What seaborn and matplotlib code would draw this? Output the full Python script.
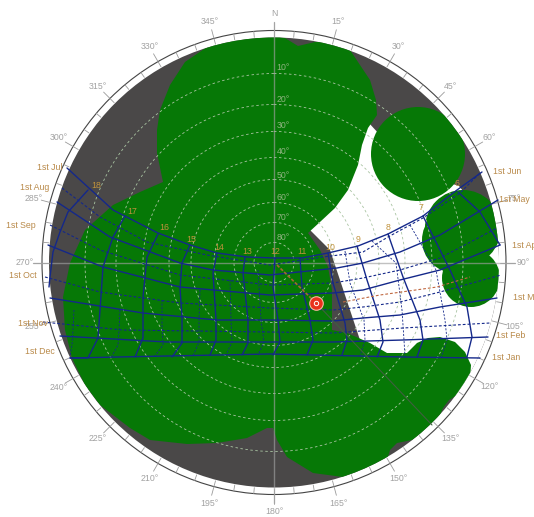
# ==========================================
# Sun path diagram with shading obstructions
# ==========================================
import numpy as np
import pandas as pd
import matplotlib.pyplot as plt
from matplotlib.patches import Circle, Polygon
import seaborn as sns

# ==========================================
# Data (chart coordinates)
# ==========================================
centre_x = 274
centre_y = 262.5
horizon_r = 225
ring_r = 232

alt_labels = ["10°", "20°", "30°", "40°", "50°", "60°", "70°", "80°"]
alt_rings = [189, 158, 131, 105, 83, 60, 40, 20]
alt_label_y = [67, 99, 126, 152, 175, 197, 217, 238]

az_labels = ["N", "15°", "30°", "45°", "60°", "75°", "90°", "105°", "120°", "135°", "150°", "165°",
             "180°", "195°", "210°", "225°", "240°", "255°", "270°", "285°", "300°", "315°", "330°", "345°"]

date_labels = ["1st Jul", "1st Aug", "1st Sep", "1st Oct", "1st Nov", "1st Dec",
               "1st Jun", "1st May", "1st Apr", "1st Mar", "1st Feb", "1st Jan"]
date_x = [50, 35, 21, 23, 33, 40, 507, 514, 526, 528, 511, 506]
date_y = [167, 187, 226, 275, 323, 352, 172, 200, 245, 297, 335, 357]

hour_labels = ["18", "17", "16", "15", "14", "13", "12", "11", "10", "9", "8", "7", "6"]
hour_x = [96, 132, 164, 191, 219, 247, 275, 302, 330, 358, 388, 421, 457]
hour_y = [186, 211, 228, 240, 248, 252, 252, 252, 247, 240, 228, 207, 183]

# clear sky patch inside the horizon
sky_x = [368, 380, 440, 459, 470, 505, 505, 480, 462, 449, 400, 360, 330, 310, 340]
sky_y = [122, 135, 180, 186, 200, 255, 340, 385, 392, 398, 398, 340, 250, 230, 180]

# main obstruction outline
body_x = [163, 157, 157, 160, 170, 185, 210, 240, 274, 285, 298, 315, 337, 350, 360, 370, 376, 377,
          368, 362, 358, 348, 335, 320, 308, 320, 328, 332, 332, 347, 370, 387, 407, 417, 428, 440,
          455, 465, 471, 470, 462, 449, 443, 438, 425, 412, 397, 390, 387, 375, 343, 313, 287, 277, 273, 267, 247,
          217, 187, 150, 130, 100, 85, 72, 65, 63, 70, 85, 113, 140]
body_y = [182, 153, 130, 110, 85, 62, 45, 38, 36, 38, 46, 42, 42, 50, 65, 80, 100, 115,
          128, 145, 165, 190, 208, 222, 233, 250, 267, 290, 330, 333, 343, 353, 353, 343, 338, 337,
          342, 352, 365, 380, 392, 400, 408, 420, 432, 440, 443, 450, 460, 468, 477, 473, 457, 440, 428, 428, 438,
          443, 444, 440, 428, 405, 385, 358, 330, 297, 263, 230, 205, 192]

# tree crowns to the east
tree_x = [418, 463, 455, 471]
tree_y = [154, 228, 240, 278]
tree_r = [47, 38, 33, 29]

# month lines, solid = 1st of the month, dashed = mid month
solid_months = {
    "jun_jul": ([67, 113, 158, 190, 217, 247, 275, 302, 328, 358, 388, 423, 457, 482],
                [168, 210, 233, 245, 253, 257, 258, 258, 253, 246, 234, 216, 190, 172]),
    "may_aug": ([57, 110, 180, 213, 270, 337, 363, 400, 440, 498],
                [202, 237, 263, 270, 275, 268, 263, 252, 235, 200]),
    "apr_sep": ([48, 103, 180, 270, 333, 363, 400, 440, 500],
                [245, 267, 287, 295, 293, 290, 280, 270, 245]),
    "mar_oct": ([50, 143, 217, 270, 333, 363, 400, 440, 497],
                [298, 313, 320, 320, 321, 318, 315, 307, 298]),
    "feb_nov": ([60, 167, 270, 333, 403, 488],
                [336, 342, 342, 342, 340, 337]),
    "jan_dec": ([70, 167, 270, 403, 480],
                [358, 356, 354, 357, 358]),
}
dashed_months = {
    "mid_1": ([62, 100, 147, 207, 270, 323, 363, 388, 423, 460, 480],
              [188, 217, 242, 255, 265, 257, 252, 237, 218, 193, 173]),
    "mid_2": ([50, 100, 180, 270, 333, 363, 400, 440, 497],
              [225, 250, 275, 285, 283, 278, 270, 258, 228]),
    "mid_3": ([45, 100, 180, 270, 333, 363, 400, 440, 501],
              [277, 292, 303, 308, 310, 307, 302, 292, 275]),
    "mid_4": ([43, 123, 270, 333, 403, 490],
              [322, 330, 332, 333, 328, 323]),
}
today_x = [343, 380, 437, 470]
today_y = [302, 295, 287, 277]

# hour lines
solid_hours = {
    "h18": ([88, 68, 60, 53, 50, 49], [190, 212, 232, 252, 277, 287]),
    "h17": ([125, 113, 103, 100, 98, 88, 70], [216, 237, 267, 310, 338, 358, 358]),
    "h16": ([158, 147, 143, 143, 135], [234, 257, 297, 338, 357]),
    "h15": ([190, 182, 180, 182, 182, 172], [245, 263, 288, 317, 343, 357]),
    "h14": ([217, 213, 216, 216, 210], [253, 273, 320, 340, 355]),
    "h13": ([245, 243, 248, 248, 242], [257, 273, 320, 343, 355]),
    "h12": ([275, 273, 278, 280, 273], [258, 287, 320, 342, 355]),
    "h11": ([300, 302, 310, 313, 307], [258, 287, 320, 340, 355]),
    "h10": ([328, 333, 345, 347, 342], [253, 283, 323, 340, 355]),
    "h9": ([357, 367, 380, 383, 377], [246, 280, 320, 342, 357]),
    "h8": ([388, 403, 420, 423, 417], [234, 277, 320, 340, 357]),
    "h7": ([423, 450, 467, 472, 467], [216, 270, 307, 337, 357]),
    "h6": ([458, 480, 500], [192, 212, 245]),
}
dashed_hours = {
    "h17_5": ([74, 73, 72, 70], [310, 330, 345, 356]),
    "h16_5": ([120, 119, 118, 112], [310, 330, 345, 356]),
    "h15_5": ([162, 162, 163, 155], [300, 325, 345, 356]),
    "h14_5": ([200, 199, 199, 193], [290, 320, 342, 356]),
    "h13_5": ([230, 231, 232, 226], [280, 320, 342, 355]),
    "h12_5": ([258, 261, 264, 258], [270, 320, 342, 355]),
    "h9_5": ([345, 350, 364, 365, 360], [251, 283, 320, 340, 356]),
    "h8_5": ([372, 396, 402, 404, 405], [241, 263, 310, 340, 357]),
    "h7_5": ([410, 436, 445, 447, 441], [225, 270, 320, 340, 358]),
}

sun_x = [316]
sun_y = [303]
sun_line_x = [277, 316]
sun_line_y = [265, 303]
shadow_line_x = [316, 340, 432]
shadow_line_y = [303, 328, 425]


def to_frame(lines):
    rows = []
    for name, (xs, ys) in lines.items():
        rows.append(pd.DataFrame({"line": name, "x": xs, "y": ys}))
    return pd.concat(rows, ignore_index=True)


# ==========================================
# Figure
# ==========================================
sns.set_theme(style="white")
plt.rcParams["font.family"] = ["Liberation Sans", "DejaVu Sans"]

fig = plt.figure(figsize=(5.34, 5.17), dpi=100)
ax = fig.add_axes([0, 0, 1, 1])
ax.set_xlim(0, 534)
ax.set_ylim(517, 0)
ax.axis("off")

# Horizon disc and outer ring
disc = Circle((centre_x, centre_y), horizon_r, facecolor="#4a4848", edgecolor="none", zorder=1)
ax.add_patch(disc)
ax.add_patch(Circle((centre_x, centre_y), ring_r, fill=False, edgecolor="#444444", linewidth=0.8, zorder=1))

sky = Polygon(np.column_stack([sky_x, sky_y]), facecolor="white", edgecolor="none", zorder=2)
ax.add_patch(sky)
sky.set_clip_path(disc)

# Obstructions
body = Polygon(np.column_stack([body_x, body_y]), facecolor="#067806", edgecolor="none", zorder=3)
ax.add_patch(body)
body.set_clip_path(disc)
for tx, ty, tr in zip(tree_x, tree_y, tree_r):
    crown = Circle((tx, ty), tr, facecolor="#067806", edgecolor="none", zorder=3)
    ax.add_patch(crown)
    crown.set_clip_path(disc)

# Altitude rings
for r in alt_rings:
    ax.add_patch(Circle((centre_x, centre_y), r, fill=False, edgecolor="#a9c4a2", linewidth=0.6,
                        linestyle=(0, (3, 3)), zorder=4))
for label, y in zip(alt_labels, alt_label_y):
    ax.text(centre_x + 9, y, label, color="#8fb580", fontsize=6.3, ha="center", va="center", zorder=4)

# Cross hairs
ax.plot([centre_x, centre_x], [22, 503], color="#a0a0a0", linewidth=1.0, alpha=0.65, zorder=4)
ax.plot([33, 515], [centre_y, centre_y], color="#a0a0a0", linewidth=1.0, alpha=0.65, zorder=4)

# Azimuth ticks and labels
for az in range(0, 360, 5):
    ang = np.radians(az)
    outer = 241 if az % 15 == 0 else ring_r
    ax.plot([centre_x + 226 * np.sin(ang), centre_x + outer * np.sin(ang)],
            [centre_y - 226 * np.cos(ang), centre_y - outer * np.cos(ang)],
            color="#9a9a9a", linewidth=0.6, zorder=2)
for i, label in enumerate(az_labels):
    ang = np.radians(i * 15)
    ax.text(centre_x + 249 * np.sin(ang), centre_y - 249 * np.cos(ang), label,
            color="#a2a2a2", fontsize=6.3, ha="center", va="center", zorder=6)

# Sun path lines
navy = "#14288a"
dash = (0, (2.5, 1.8))
sns.lineplot(data=to_frame(solid_months), x="x", y="y", units="line", estimator=None, sort=False,
             color=navy, linewidth=1.0, legend=False, ax=ax, zorder=5)
sns.lineplot(data=to_frame(dashed_months), x="x", y="y", units="line", estimator=None, sort=False,
             color=navy, linewidth=0.8, linestyle=dash, legend=False, ax=ax, zorder=5)
sns.lineplot(data=to_frame(solid_hours), x="x", y="y", units="line", estimator=None, sort=False,
             color=navy, linewidth=1.0, legend=False, ax=ax, zorder=5)
sns.lineplot(data=to_frame(dashed_hours), x="x", y="y", units="line", estimator=None, sort=False,
             color=navy, linewidth=0.6, linestyle=dash, legend=False, ax=ax, zorder=5)
sns.lineplot(x=today_x, y=today_y, estimator=None, sort=False, color="#c06840", linewidth=0.8,
             linestyle=dash, legend=False, ax=ax, zorder=5)

# Sun position
sns.lineplot(x=shadow_line_x, y=shadow_line_y, estimator=None, sort=False, color="#3f5f3f",
             linewidth=0.8, legend=False, ax=ax, zorder=5)
sns.lineplot(x=sun_line_x, y=sun_line_y, estimator=None, sort=False, color="#a06a30",
             linewidth=1.2, linestyle=(0, (2, 1)), legend=False, ax=ax, zorder=5)
sns.scatterplot(x=sun_x, y=sun_y, s=95, color="#e8301c", edgecolor="#f5b8a0", linewidth=0.8, ax=ax, zorder=6)
sns.scatterplot(x=sun_x, y=sun_y, s=10, color="#e8301c", edgecolor="white", linewidth=0.7, ax=ax, zorder=7)

# Date and hour labels
for label, x, y in zip(date_labels, date_x, date_y):
    ax.text(x, y, label, color="#b98a4a", fontsize=6.3, ha="center", va="center", zorder=6)
for label, x, y in zip(hour_labels, hour_x, hour_y):
    ax.text(x, y, label, color="#c0923c", fontsize=6.3, ha="center", va="center", zorder=6)

ax.set_xlim(0, 534)
ax.set_ylim(517, 0)
plt.savefig("out.png", dpi=100)
